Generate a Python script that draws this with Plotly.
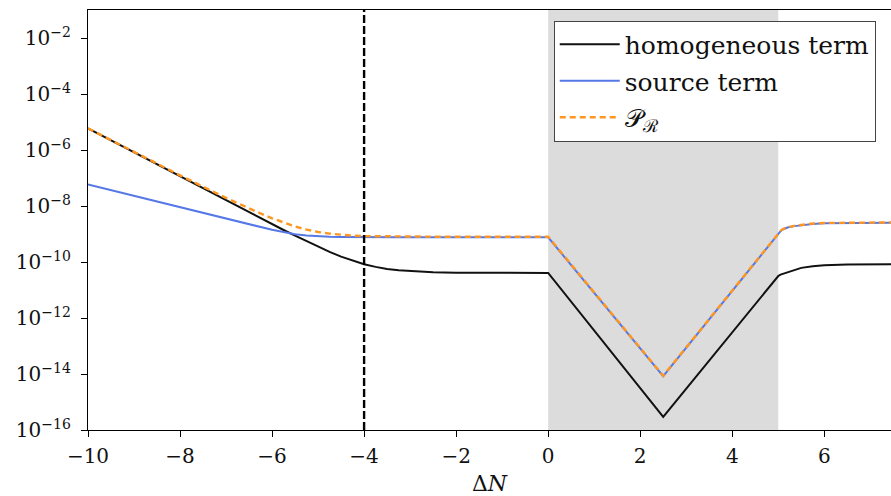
import plotly.graph_objects as go

# e-fold number relative to the transition
dN = [-10, -9, -8, -7, -6.5, -6.25, -6, -5.75, -5.5, -5.25, -5, -4.75, -4.5, -4.25, -4,
      -3.75, -3.5, -3.25, -3, -2.5, -2, -1, 0,
      2.5, 4.9, 5.0, 5.05, 5.1, 5.2, 5.35, 5.5, 5.75, 6, 6.5, 7, 7.5]

homogeneous = [5.89e-6, 8.13e-7, 1.15e-7, 1.58e-8, 5.89e-9, 3.63e-9, 2.24e-9, 1.39e-9,
               8.71e-10, 5.53e-10, 3.47e-10, 2.31e-10, 1.55e-10, 1.115e-10, 8.32e-11,
               6.70e-11, 5.62e-11, 5.05e-11, 4.68e-11, 4.27e-11, 4.17e-11, 4.07e-11, 4.07e-11,
               2.95e-16, 2.09e-11, 3.16e-11, 3.55e-11, 3.80e-11, 4.37e-11, 5.25e-11, 6.17e-11,
               7.08e-11, 7.59e-11, 8.13e-11, 8.32e-11, 8.32e-11]

source = [5.89e-8, 2.29e-8, 8.91e-9, 3.55e-9, 2.24e-9, 1.78e-9, 1.41e-9, 1.17e-9,
          9.77e-10, 8.91e-10, 8.32e-10, 7.94e-10, 7.76e-10, 7.65e-10, 7.59e-10,
          7.59e-10, 7.59e-10, 7.59e-10, 7.59e-10, 7.59e-10, 7.59e-10, 7.59e-10, 7.59e-10,
          8.32e-15, 6.76e-10, 1.07e-9, 1.26e-9, 1.45e-9, 1.70e-9, 1.91e-9, 2.09e-9,
          2.29e-9, 2.40e-9, 2.45e-9, 2.51e-9, 2.51e-9]

P_R = [5.95e-6, 8.36e-7, 1.24e-7, 1.94e-8, 8.13e-9, 5.41e-9, 3.65e-9, 2.56e-9,
       1.85e-9, 1.44e-9, 1.18e-9, 1.03e-9, 9.31e-10, 8.77e-10, 8.42e-10,
       8.27e-10, 8.15e-10, 8.10e-10, 8.06e-10, 8.02e-10, 8.01e-10, 8.00e-10, 8.00e-10,
       8.62e-15, 6.97e-10, 1.10e-9, 1.29e-9, 1.49e-9, 1.74e-9, 1.96e-9, 2.15e-9,
       2.36e-9, 2.48e-9, 2.53e-9, 2.59e-9, 2.59e-9]

names = ["homogeneous term", "source term", "\U0001D4AB<sub>\u211B</sub>"]

shade_start, shade_end = 0, 5
marker_N = -4

x_tickvals = [-10, -8, -6, -4, -2, 0, 2, 4, 6]
x_ticktext = ["\u221210", "\u22128", "\u22126", "\u22124", "\u22122", "0", "2", "4", "6"]
y_tickvals = [1e-2, 1e-4, 1e-6, 1e-8, 1e-10, 1e-12, 1e-14, 1e-16]
y_ticktext = ["10<sup>\u22122</sup>", "10<sup>\u22124</sup>", "10<sup>\u22126</sup>",
              "10<sup>\u22128</sup>", "10<sup>\u221210</sup>", "10<sup>\u221212</sup>",
              "10<sup>\u221214</sup>", "10<sup>\u221216</sup>"]

FONT = "DejaVu Serif"

fig = go.Figure()
fig.add_trace(go.Scatter(x=dN, y=homogeneous, mode="lines", name=names[0], legendgroup="a",
                         line=dict(color="#111111", width=2)))
fig.add_trace(go.Scatter(x=dN, y=source, mode="lines", name=names[1], legendgroup="b",
                         line=dict(color="#5578e6", width=2)))
fig.add_trace(go.Scatter(x=dN, y=P_R, mode="lines", name=names[2], legendgroup="c",
                         line=dict(color="#ff9620", width=2.4, dash="6px,4px")))

fig.add_shape(type="rect", xref="x", yref="paper", x0=shade_start, x1=shade_end, y0=0, y1=1,
              fillcolor="#dcdcdc", line=dict(width=0), layer="below")
fig.add_shape(type="line", xref="x", yref="paper", x0=marker_N, x1=marker_N, y0=0, y1=1,
              line=dict(color="black", width=2.4, dash="8px,3px"))

fig.update_layout(
    width=891, height=496,
    margin=dict(l=88, r=0, t=10, b=66),
    paper_bgcolor="white", plot_bgcolor="white",
    font=dict(family=FONT, size=20, color="#111"),
    showlegend=True,
    legend=dict(x=0.58, y=0.975, xanchor="left", yanchor="top",
                bgcolor="white", bordercolor="#444", borderwidth=1,
                font=dict(family=FONT, size=25, color="#111"),
                itemwidth=60, tracegroupgap=1),
)
fig.update_xaxes(range=[-10, 7.45], tickvals=x_tickvals, ticktext=x_ticktext,
                 showgrid=False, zeroline=False, showline=True, linecolor="black",
                 linewidth=1.3, mirror=True, ticks="outside", ticklen=6, tickwidth=1.2,
                 tickcolor="black", ticklabelstandoff=2,
                 title=dict(text="\u0394<i>N</i>", font=dict(family=FONT, size=22), standoff=10))
fig.update_yaxes(type="log", range=[-16, -1], tickvals=y_tickvals, ticktext=y_ticktext,
                 showgrid=False, zeroline=False, showline=True, linecolor="black",
                 linewidth=1.3, ticks="outside", ticklen=6, tickwidth=1.2, tickcolor="black",
                 ticklabelstandoff=6)

fig.write_html("out.html")
